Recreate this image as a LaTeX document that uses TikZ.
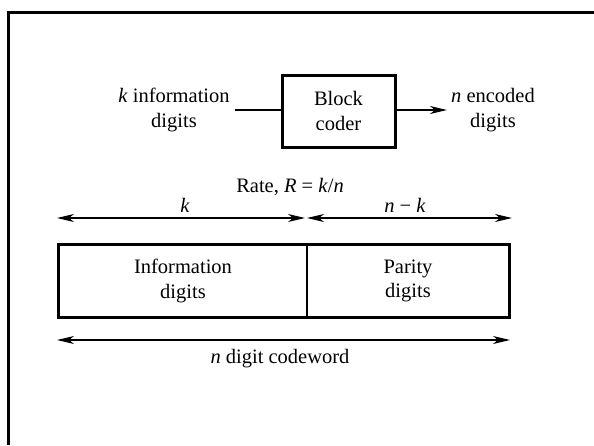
\documentclass[tikz,border=0pt]{standalone}
\usepackage{fontspec}
\setmainfont{Liberation Serif}
\usetikzlibrary{arrows.meta}
\begin{document}
\begin{tikzpicture}[x=1pt,y=-1pt,
  every node/.style={font=\fontsize{20.5}{24.5}\selectfont, inner sep=0pt},
  lab/.style={align=center},
  blockbox/.style={draw, line width=3pt, minimum width=113pt, minimum height=72pt, align=center},
  cell/.style={draw, line width=1.1pt, align=center, minimum height=72pt},
  conn/.style={line width=1.4pt},
  tip/.style={-{Stealth[length=17pt,width=8pt,inset=5pt]}},
  dim/.style={line width=1.5pt, {Stealth[length=17pt,width=8pt,inset=5pt]}-{Stealth[length=17pt,width=8pt,inset=5pt]}},
  frameline/.style={line width=2.2pt}
]
\useasboundingbox (0,0) rectangle (594,445);
% frame
\draw[frameline] (8.5,445) -- (8.5,12.5) -- (594,12.5);
% top block diagram
\node[blockbox] (box) at (338.5,111) {Block\\coder};
\node[lab] (inp) at (174,110) {\textit{k} information\\digits};
\node[lab] (out) at (493,110) {\textit{n} encoded\\digits};
\draw[conn] ([xshift=5pt]inp.east) -- (inp.east -| box.west);
\draw[conn,tip] (box.east |- out.west) -- ([xshift=-4pt]out.west);
% rate
\node[lab,anchor=base] (rate) at (290,192) {Rate, \textit{R} = \textit{k}/\textit{n}};
% dimension arrows
\coordinate (a1) at (57,218);
\coordinate (a2) at (305,218);
\coordinate (a3) at (307,218);
\coordinate (a4) at (512,218);
\draw[dim] (a1) -- (a2);
\draw[dim] (a3) -- (a4);
\node[lab,anchor=base] (kl) at (185,212) {\textit{k}};
\node[lab,anchor=base] (nkl) at (405,212) {\textit{n} − \textit{k}};
% codeword
\node[cell, minimum width=248pt] (info) at (183,281) {Information\\digits};
\node[cell, minimum width=202pt] (par) at (408,281) {Parity\\digits};
\draw[line width=2.8pt] (info.north west) rectangle (par.south east);
% bottom
\coordinate (b1) at (57,340);
\coordinate (b2) at (510,340);
\draw[dim] (b1) -- (b2);
\node[lab,anchor=base] (cw) at (280,363) {\textit{n} digit codeword};
\end{tikzpicture}
\end{document}
